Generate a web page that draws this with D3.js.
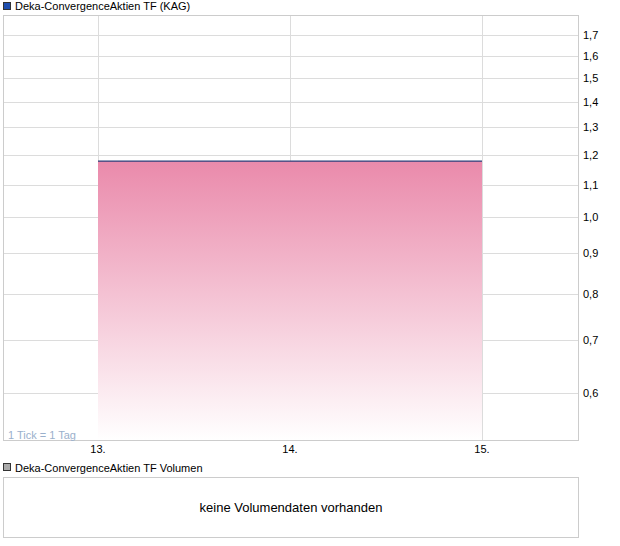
<!DOCTYPE html>
<html><head><meta charset="utf-8">
<script src="https://cdn.jsdelivr.net/npm/d3@7"></script>
<style>body{margin:0;background:#fff}svg{display:block;font-family:"Liberation Sans",Arial,sans-serif}</style>
</head><body><svg id="c" width="620" height="546"></svg>
<script>
const title = "Deka-ConvergenceAktien TF (KAG)";
const volTitle = "Deka-ConvergenceAktien TF Volumen";
const days = [13, 14, 15];
const prices = [1.178, 1.178, 1.178];
const yTicks = [0.6, 0.7, 0.8, 0.9, 1.0, 1.1, 1.2, 1.3, 1.4, 1.5, 1.6, 1.7];
const xTickLabels = ["13.", "14.", "15."];
const tickNote = "1 Tick = 1 Tag";
const noVolume = "keine Volumendaten vorhanden";

const svg = d3.select("#c");
const L = 3.5, R = 578.5, T = 15.5, B = 440.5;
const x = d3.scaleLinear().domain([12.5, 15.5]).range([2, 578]);
const y = d3.scaleLog().domain([0.522, 1.8]).range([B, T]);

const defs = svg.append("defs");
const g = defs.append("linearGradient").attr("id","gr").attr("gradientUnits","userSpaceOnUse")
  .attr("x1",0).attr("x2",0).attr("y1",y(d3.max(prices))).attr("y2",B);
g.append("stop").attr("offset","0").attr("stop-color","#ea8aab");
g.append("stop").attr("offset","1").attr("stop-color","#ffffff");

// title
svg.append("rect").attr("x",3.5).attr("y",2.5).attr("width",7).attr("height",7).attr("fill","#1f4fb0").attr("stroke","#333");
svg.append("text").attr("x",15).attr("y",10).attr("font-size",11).attr("fill","#000").text(title);

// grid
svg.append("g").selectAll("line").data(yTicks).join("line")
  .attr("x1",L).attr("x2",R).attr("y1",d=>Math.round(y(d))+0.5).attr("y2",d=>Math.round(y(d))+0.5)
  .attr("stroke","#dcdcdc");
svg.append("g").selectAll("line").data(days).join("line")
  .attr("y1",T).attr("y2",B).attr("x1",d=>Math.round(x(d))+0.5).attr("x2",d=>Math.round(x(d))+0.5)
  .attr("stroke","#dcdcdc");

// area
const area = d3.area().x((d,i)=>x(days[i])).y0(B).y1(d=>y(d));
svg.append("path").datum(prices).attr("d",area).attr("fill","url(#gr)");
const line = d3.line().x((d,i)=>x(days[i])).y(d=>y(d));
svg.append("path").datum(prices).attr("d",line).attr("fill","none").attr("stroke","#2a3f7a").attr("stroke-width",1.2);

// frame
svg.append("rect").attr("x",L).attr("y",T).attr("width",R-L).attr("height",B-T).attr("fill","none").attr("stroke","#cccccc");

// y axis labels
svg.append("g").selectAll("text").data(yTicks).join("text")
  .attr("x",583).attr("y",d=>y(d)+4).attr("font-size",11).attr("fill","#000")
  .text(d=>d3.format(".1f")(d).replace(".",","));

// x labels
svg.append("g").selectAll("text").data(days).join("text")
  .attr("x",d=>x(d)).attr("y",453).attr("text-anchor","middle").attr("font-size",11).attr("fill","#000")
  .text((d,i)=>xTickLabels[i]);

svg.append("text").attr("x",8).attr("y",439).attr("font-size",11).attr("fill","#9ab0cc").text(tickNote);

// volume panel
svg.append("rect").attr("x",3.5).attr("y",463.5).attr("width",7).attr("height",7).attr("fill","#aaaaaa").attr("stroke","#333");
svg.append("text").attr("x",15).attr("y",472).attr("font-size",11).attr("fill","#000").text(volTitle);
svg.append("rect").attr("x",3.5).attr("y",477.5).attr("width",575).attr("height",60).attr("fill","none").attr("stroke","#cccccc");
svg.append("text").attr("x",291).attr("y",512).attr("text-anchor","middle").attr("font-size",13).attr("fill","#000").text(noVolume);
</script></body></html>
